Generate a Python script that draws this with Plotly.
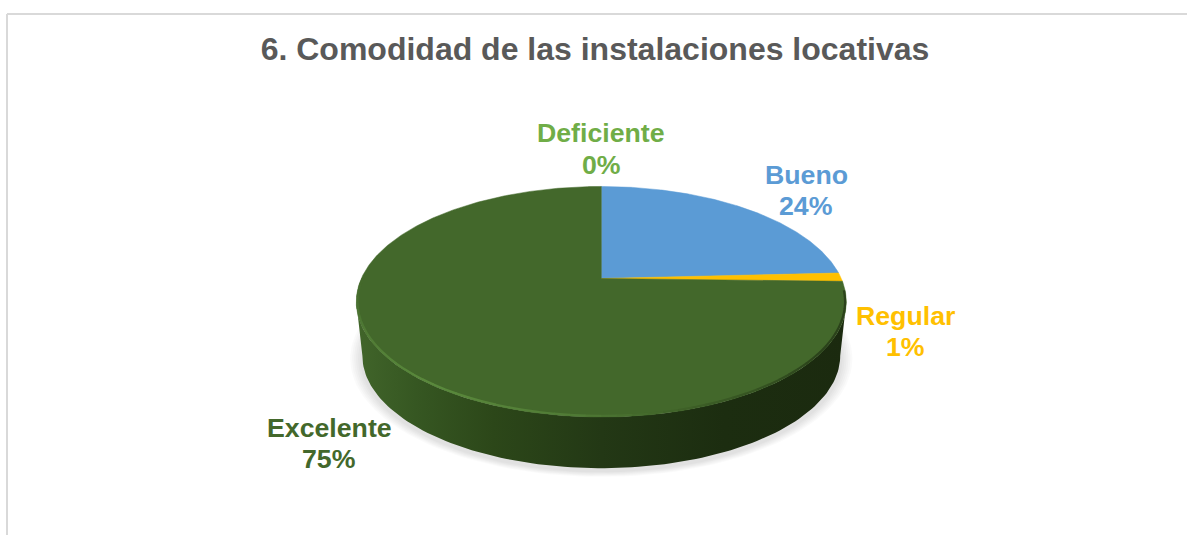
import numpy as np
import plotly.graph_objects as go

# slices run clockwise from twelve o'clock
categories = ["Bueno", "Regular", "Deficiente", "Excelente"]
values = [24.2, 1.2, 0.0, 74.6]
title_text = "6. Comodidad de las instalaciones locativas"

SLICE_COLORS = {"Bueno": "#5B9BD5", "Regular": "#FFC000", "Deficiente": "#70AD47", "Excelente": "#43682B"}
# label centre x, then y of the name line and of the percent line
LABEL_POS = {
    "Bueno": (806, 175, 206),
    "Regular": (905, 316, 347),
    "Deficiente": (601, 133, 165),
    "Excelente": (329, 428, 459),
}

# perspective of the tilted disc, in axis units (the axes are 1:1 with the page)
CX, CY = 601.3, 278.5
K, A, C = 240.0, 110.6, 0.2017
ELL_CY = CY + A * C / (1 - C ** 2)
DEPTH = 54.0
BOTTOM_SCALE = 0.975


def project(phi_deg):
    phi = np.radians(phi_deg)
    u, v = np.sin(phi), np.cos(phi)
    return CX + K * u / (1 + C * v), CY - A * v / (1 + C * v)


def project_bottom(phi_deg, grow=0.0):
    x, y = project(phi_deg)
    s = BOTTOM_SCALE + grow
    return CX + s * (x - CX), ELL_CY + s * (y - ELL_CY) + DEPTH


def mix(c1, c2, f):
    a = [int(c1[i:i + 2], 16) for i in (1, 3, 5)]
    b = [int(c2[i:i + 2], 16) for i in (1, 3, 5)]
    return "#" + "".join(f"{round(p + (q - p) * f):02x}" for p, q in zip(a, b))


fig = go.Figure()

# --- soft shadow under the disc ---
all_phi = np.linspace(0, 360, 181)
for grow in [0.05, 0.042, 0.034, 0.026, 0.018, 0.01]:
    sx, sy = project_bottom(all_phi, grow)
    fig.add_trace(go.Scatter(
        x=sx, y=sy + 3, mode="lines", line=dict(width=0), fill="toself",
        fillcolor="rgba(0,0,0,0.018)", hoverinfo="skip", showlegend=False,
    ))

# --- side wall, only the front part of the rim shows ---
edge = 90 + np.degrees(np.arcsin(C))
front = np.linspace(edge, 360 - edge, 120)
tx, ty = project(front)
bx, by = project_bottom(front)
fig.add_trace(go.Scatter(
    x=np.concatenate([tx, bx[::-1]]),
    y=np.concatenate([ty, by[::-1]]),
    mode="lines", line=dict(width=0), fill="toself",
    fillgradient=dict(type="horizontal", colorscale=[
        [0.00, "#41652A"], [0.12, "#365722"], [0.28, "#2C4719"],
        [0.50, "#233815"], [0.75, "#1C2D10"], [1.00, "#1B2A0F"],
    ]),
    hoverinfo="skip", showlegend=False,
))

# --- top face, slices from the values ---
cum = np.cumsum([0] + values) / sum(values) * 360
for i, name in enumerate(categories):
    if values[i] <= 0:
        continue
    arc = np.linspace(cum[i], cum[i + 1], max(3, int((cum[i + 1] - cum[i]) * 2)))
    ax, ay = project(arc)
    fig.add_trace(go.Scatter(
        x=np.concatenate([[CX], ax, [CX]]),
        y=np.concatenate([[CY], ay, [CY]]),
        mode="lines", line=dict(width=0.5, color=SLICE_COLORS[name]), fill="toself",
        fillcolor=SLICE_COLORS[name], name=name,
        hovertemplate=f"{name}: {values[i]:.0f}%<extra></extra>", showlegend=False,
    ))

# --- bevel along the front rim: dark on the right, light on the lower left ---
RIM_PHI = [96, 125, 160, 185, 215, 250, 268]
RIM_COL = ["#2B421B", "#2B421B", "#3C5E26", "#517C36", "#5A8A3C", "#4D7633", "#43682B"]
seg = np.arange(96, 268, 3)
for p in seg:
    k = np.searchsorted(RIM_PHI, p, side="right") - 1
    k = min(k, len(RIM_PHI) - 2)
    f = (p - RIM_PHI[k]) / (RIM_PHI[k + 1] - RIM_PHI[k])
    rx, ry = project(np.array([p, p + 3.2]))
    fig.add_trace(go.Scatter(
        x=CX + 0.995 * (rx - CX), y=ELL_CY + 0.99 * (ry - ELL_CY),
        mode="lines", line=dict(width=2.2, color=mix(RIM_COL[k], RIM_COL[k + 1], f)),
        hoverinfo="skip", showlegend=False,
    ))

# --- data labels, one annotation per line because the line gap is tighter than plotly's ---
for name, val in zip(categories, values):
    lx, ly_name, ly_pct = LABEL_POS[name]
    for ly, line_text in [(ly_name, name), (ly_pct, f"{val:.0f}%")]:
        fig.add_annotation(
            x=lx, y=ly, text=f"<b>{line_text}</b>", showarrow=False,
            xanchor="center", yanchor="middle",
            font=dict(family="Liberation Sans", size=26.7, color=SLICE_COLORS[name]),
        )

# chart frame, runs off the page on the right and bottom
frame = dict(type="line", line=dict(color="#D9D9D9", width=2))
fig.add_shape(x0=7, x1=1187, y0=14, y1=14, **frame)
fig.add_shape(x0=7, x1=7, y0=14, y1=535, **frame)

fig.update_layout(
    title=dict(
        text=f"<b>{title_text}</b>",
        font=dict(family="Liberation Sans", size=32, color="#595959"),
        x=595 / 1187, xanchor="center", xref="paper",
        y=1 - 49 / 535, yanchor="middle", yref="paper",
    ),
    xaxis=dict(range=[0, 1187], visible=False, fixedrange=True),
    yaxis=dict(range=[535, 0], visible=False, fixedrange=True),
    width=1187,
    height=535,
    margin=dict(l=0, r=0, t=0, b=0),
    plot_bgcolor="white",
    paper_bgcolor="white",
    showlegend=False,
)

fig.write_html("out.html", config=dict(displayModeBar=False), post_script="document.body.style.margin='0';")
